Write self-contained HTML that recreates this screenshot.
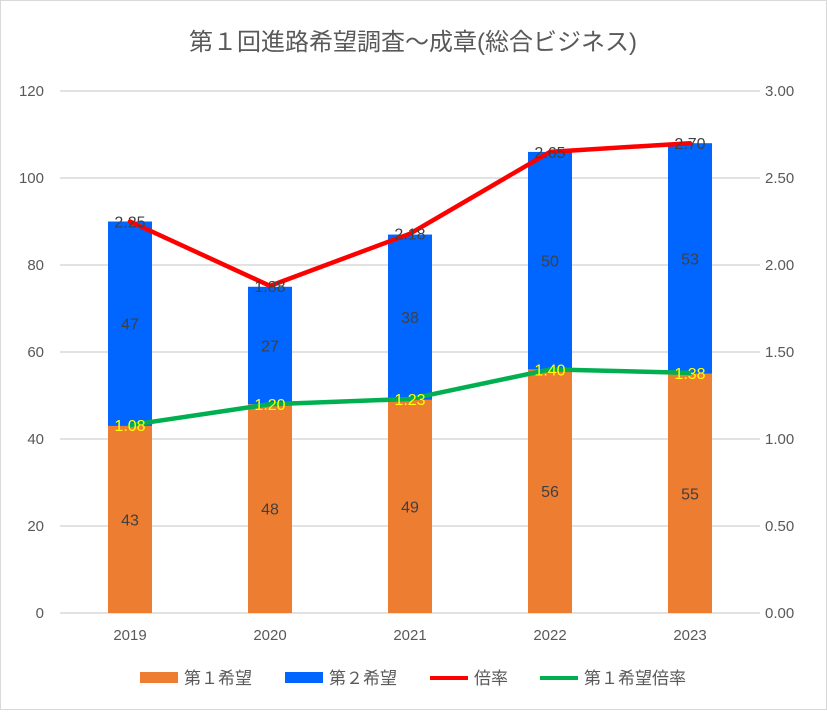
<!DOCTYPE html>
<html><head><meta charset="utf-8"><style>
body{margin:0;background:#fff;}
svg text{font-family:"Liberation Sans","Noto Sans CJK JP",sans-serif;}
</style></head><body>
<svg id="chart" width="827" height="710" xmlns="http://www.w3.org/2000/svg">
<rect x="0.5" y="0.5" width="826" height="709" fill="#fff" stroke="#d9d9d9"/>
<text x="413" y="50" text-anchor="middle" font-size="24" fill="#595959">第１回進路希望調査～成章(総合ビジネス)</text>
<g id="grid"></g><g id="bars"></g><g id="lines"></g><g id="labels"></g><g id="axes"></g>
<g>
<rect x="140" y="672" width="38" height="11" fill="#ED7D31"/>
<text x="184" y="684" font-size="17" fill="#595959">第１希望</text>
<rect x="285" y="672" width="38" height="11" fill="#0066FF"/>
<text x="329" y="684" font-size="17" fill="#595959">第２希望</text>
<line x1="430" y1="678" x2="468" y2="678" stroke="#FF0000" stroke-width="4"/>
<text x="474" y="684" font-size="17" fill="#595959">倍率</text>
<line x1="540" y1="678" x2="578" y2="678" stroke="#00B050" stroke-width="4"/>
<text x="584" y="684" font-size="17" fill="#595959">第１希望倍率</text>
</g>
</svg>
<script>
const categories=["2019","2020","2021","2022","2023"];
const firstChoice=[43,48,49,56,55];
const secondChoice=[47,27,38,50,53];
const ratio=[2.25,1.88,2.18,2.65,2.70];
const firstRatio=[1.08,1.20,1.23,1.40,1.38];
const leftTicks=[0,20,40,60,80,100,120];
const rightTicks=["0.00","0.50","1.00","1.50","2.00","2.50","3.00"];
const NS="http://www.w3.org/2000/svg";
const X0=60,X1=760,Y0=613,Y1=91;
const yL=v=>Y0-(v/120)*(Y0-Y1);
const yR=v=>Y0-(v/3)*(Y0-Y1);
const xC=i=>X0+(X1-X0)/categories.length*(i+0.5);
function mk(tag,attrs,parent,text){const e=document.createElementNS(NS,tag);for(const k in attrs)e.setAttribute(k,attrs[k]);if(text!==undefined)e.textContent=text;document.getElementById(parent).appendChild(e);return e;}
leftTicks.forEach((t,i)=>{
 const g=mk('line',{x1:X0,x2:X1,y1:yL(t),y2:yL(t),stroke:'#d9d9d9','stroke-width':1.5},'grid');
 
 
 const a=mk('text',{x:44,y:yL(t)+5,'text-anchor':'end','font-size':15,fill:'#595959'},'axes',t);
 
 
 const r=mk('text',{x:765,y:yR(i*0.5)+5,'font-size':15,fill:'#595959'},'axes',rightTicks[i]);
 
 
});
const bw=44;
categories.forEach((c,i)=>{
 const x=xC(i);
 const b1=mk('rect',{x:x-bw/2,y:yL(firstChoice[i]),width:bw,height:Y0-yL(firstChoice[i]),fill:'#ED7D31'},'bars');
 
 
 const top=firstChoice[i]+secondChoice[i];
 const b2=mk('rect',{x:x-bw/2,y:yL(top),width:bw,height:yL(firstChoice[i])-yL(top),fill:'#0066FF'},'bars');
 
 
 const l1=mk('text',{x:x,y:(yL(firstChoice[i])+Y0)/2+6,'text-anchor':'middle','font-size':16,fill:'#404040'},'labels',firstChoice[i]);
 
 
 const l2=mk('text',{x:x,y:(yL(firstChoice[i])+yL(top))/2+6,'text-anchor':'middle','font-size':16,fill:'#404040'},'labels',secondChoice[i]);
 
 
 const cl=mk('text',{x:x,y:640,'text-anchor':'middle','font-size':15,fill:'#595959'},'axes',c);
 
 
 const rl=mk('text',{x:x,y:yR(ratio[i])+6,'text-anchor':'middle','font-size':16,fill:'#404040'},'labels',ratio[i].toFixed(2));
 
 
 const gl=mk('text',{x:x,y:yR(firstRatio[i])+6,'text-anchor':'middle','font-size':16,fill:'#FFFF00'},'labels',firstRatio[i].toFixed(2));
 
 
});
const rp=mk('polyline',{points:ratio.map((v,i)=>xC(i)+','+yR(v)).join(' '),fill:'none',stroke:'#FF0000','stroke-width':4.5,'stroke-linejoin':'round','stroke-linecap':'round'},'lines');


const gp=mk('polyline',{points:firstRatio.map((v,i)=>xC(i)+','+yR(v)).join(' '),fill:'none',stroke:'#00B050','stroke-width':4.5,'stroke-linejoin':'round','stroke-linecap':'round'},'lines');


</script>
</body></html>
